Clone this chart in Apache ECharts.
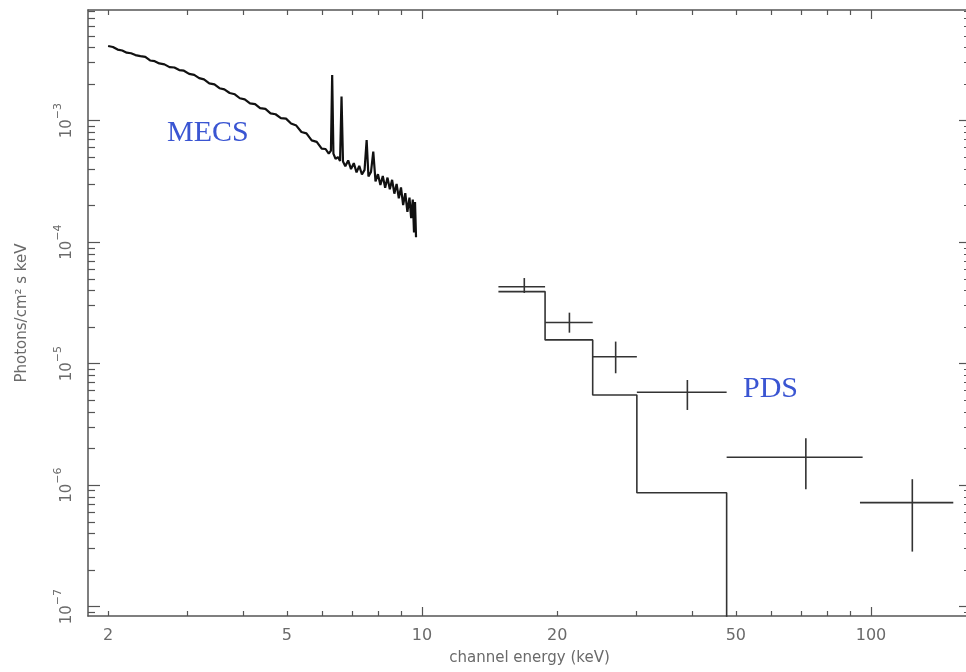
<!DOCTYPE html>
<html>
  <head>
    <meta charset="utf-8" />
    <title>MECS + PDS spectrum</title>
    <script src="https://cdn.jsdelivr.net/npm/echarts@6/dist/echarts.min.js"></script>
  </head>
  <body style="margin:0">
    <div id="main" style="width:966px;height:672px;"></div>
    <script type="text/javascript">
      // MECS spectrum: energy (keV) / flux (photons/cm2 s keV)
      const mecsE = [
        2.0, 2.05, 2.1, 2.15, 2.2, 2.25, 2.3, 2.36, 2.42, 2.48, 2.54, 2.6, 2.67, 2.74, 2.81, 2.88,
        2.95, 3.03, 3.11, 3.19, 3.27, 3.36, 3.45, 3.54, 3.63, 3.73, 3.83, 3.93, 4.03, 4.14, 4.25,
        4.36, 4.48, 4.6, 4.72, 4.85, 4.98, 5.11, 5.25, 5.39, 5.53, 5.68, 5.83, 5.98, 6.1, 6.2,
        6.27, 6.31, 6.35, 6.42, 6.5, 6.57, 6.62, 6.67, 6.75, 6.85, 6.95, 7.05, 7.15, 7.25, 7.35,
        7.45, 7.53, 7.6, 7.7, 7.79, 7.88, 7.98, 8.08, 8.18, 8.28, 8.38, 8.48, 8.58, 8.68, 8.78,
        8.88, 8.98, 9.08, 9.18, 9.28, 9.38, 9.46, 9.54, 9.6, 9.65, 9.7,
      ];
      const mecsF = [
        4.12e-3, 4.04e-3, 3.85e-3, 3.78e-3, 3.63e-3, 3.59e-3, 3.47e-3, 3.4e-3, 3.35e-3, 3.13e-3,
        3.09e-3, 2.96e-3, 2.91e-3, 2.76e-3, 2.74e-3, 2.61e-3, 2.58e-3, 2.43e-3, 2.38e-3, 2.24e-3,
        2.19e-3, 2.03e-3, 1.99e-3, 1.85e-3, 1.81e-3, 1.69e-3, 1.65e-3, 1.53e-3, 1.5e-3, 1.39e-3,
        1.37e-3, 1.27e-3, 1.25e-3, 1.15e-3, 1.13e-3, 1.05e-3, 1.04e-3, 9.48e-4, 9.12e-4, 8.07e-4,
        7.87e-4, 6.89e-4, 6.7e-4, 5.89e-4, 5.85e-4, 5.35e-4, 5.68e-4, 2.38e-3, 5.36e-4, 4.85e-4,
        5.02e-4, 4.66e-4, 1.58e-3, 4.62e-4, 4.22e-4, 4.71e-4, 4.0e-4, 4.47e-4, 3.75e-4, 4.25e-4,
        3.61e-4, 3.94e-4, 6.93e-4, 3.47e-4, 3.79e-4, 5.56e-4, 3.17e-4, 3.63e-4, 2.96e-4, 3.5e-4,
        2.81e-4, 3.4e-4, 2.73e-4, 3.26e-4, 2.51e-4, 3.02e-4, 2.3e-4, 2.82e-4, 2.02e-4, 2.53e-4,
        1.78e-4, 2.33e-4, 1.58e-4, 2.24e-4, 1.2e-4, 2.14e-4, 1.1e-4,
      ];

      // PDS data points: bin edges, centre, flux and error range
      const pdsLo = [14.8, 18.8, 24.0, 30.1, 47.7, 94.5];
      const pdsHi = [18.8, 24.0, 30.1, 47.7, 95.8, 152.5];
      const pdsE = [16.9, 21.3, 27.0, 39.0, 71.6, 123.6];
      const pdsF = [4.3e-5, 2.18e-5, 1.14e-5, 5.82e-6, 1.7e-6, 7.18e-7];
      const pdsFLo = [3.82e-5, 1.8e-5, 8.34e-6, 4.16e-6, 9.25e-7, 2.84e-7];
      const pdsFHi = [5.07e-5, 2.63e-5, 1.52e-5, 7.34e-6, 2.43e-6, 1.12e-6];

      // folded model histogram
      const modelEdges = [14.8, 18.8, 24.0, 30.1, 47.7];
      const modelF = [3.92e-5, 1.57e-5, 5.52e-6, 8.67e-7];
      const modelFloor = 1e-9;

      // axis ticks
      const xLabels = [2, 5, 10, 20, 50, 100];
      const xMajor = [10, 100];
      const xMinor = [2, 3, 4, 5, 6, 7, 8, 9, 20, 30, 40, 50, 60, 70, 80, 90];
      const yLabels = [1e-7, 1e-6, 1e-5, 1e-4, 1e-3];
      const yMinorMant = [2, 3, 4, 5, 6, 7, 8, 9];

      const yMinor = [];
      [1e-8, 1e-7, 1e-6, 1e-5, 1e-4, 1e-3].forEach(d => {
        yMinorMant.forEach(m => yMinor.push(m * d));
      });

      const modelLine = [];
      modelF.forEach((f, i) => {
        if (i > 0) modelLine.push([modelEdges[i], modelF[i - 1]]);
        modelLine.push([modelEdges[i], f]);
      });
      modelLine.push([modelEdges[modelEdges.length - 1], modelF[modelF.length - 1]]);
      modelLine.push([modelEdges[modelEdges.length - 1], modelFloor]);

      const xMin = 1.804, xMax = 167;
      const yMin = 8.38e-8, yMax = 8.15e-3;
      const axisColor = "#555";
      const textColor = "#6a6a6a";
      const font = "DejaVu Sans";

      const xAxisOf = (position, ticks, len, main) => ({
        type: "log",
        logBase: 10,
        position: position,
        min: xMin,
        max: xMax,
        axisLine: { show: main, onZero: false, lineStyle: { color: axisColor, width: 1.5 } },
        axisTick: { show: true, inside: true, length: len, customValues: ticks, lineStyle: { color: axisColor, width: 1.2 } },
        axisLabel: main && position === "bottom"
          ? { show: true, customValues: xLabels, margin: 12, color: textColor, fontFamily: font, fontSize: 16 }
          : { show: false },
        splitLine: { show: false },
        name: main && position === "bottom" ? "channel energy (keV)" : "",
        nameLocation: "middle",
        nameGap: 35,
        nameTextStyle: { color: textColor, fontFamily: font, fontSize: 15 },
      });

      const yAxisOf = (position, ticks, len, main) => ({
        type: "log",
        logBase: 10,
        position: position,
        min: yMin,
        max: yMax,
        axisLine: { show: main, onZero: false, lineStyle: { color: axisColor, width: 1.5 } },
        axisTick: { show: true, inside: true, length: len, customValues: ticks, lineStyle: { color: axisColor, width: 1.2 } },
        axisLabel: main && position === "left"
          ? {
              show: true,
              customValues: yLabels,
              rotate: 90,
              margin: 13,
              color: textColor,
              fontFamily: font,
              formatter: v => "{b|10}{s|" + "\u2212" + Math.abs(Math.round(Math.log10(v))) + "}",
              rich: {
                b: { fontSize: 15, fontFamily: font, color: textColor, lineHeight: 22, verticalAlign: "bottom" },
                s: { fontSize: 11, fontFamily: font, color: textColor, lineHeight: 22, verticalAlign: "top" },
              },
            }
          : { show: false },
        splitLine: { show: false },
        name: main && position === "left" ? "Photons/cm\u00b2 s keV" : "",
        nameLocation: "middle",
        nameGap: 58,
        nameTextStyle: { color: textColor, fontFamily: font, fontSize: 15 },
      });

      const myChart = echarts.init(document.getElementById("main"));
      const option = {
        backgroundColor: "#fff",
        animation: false,
        // the right frame sits just past the picture edge
        grid: { left: 88, right: -5, top: 10, bottom: 56, outerBoundsMode: "none", containLabel: false },
        xAxis: [
          xAxisOf("bottom", xMajor, 9, true),
          xAxisOf("bottom", xMinor, 5, false),
          xAxisOf("top", xMajor, 9, true),
          xAxisOf("top", xMinor, 5, false),
        ],
        yAxis: [
          yAxisOf("left", yLabels, 12, true),
          yAxisOf("left", yMinor, 7, false),
          yAxisOf("right", yLabels, 12, true),
          yAxisOf("right", yMinor, 7, false),
        ],
        graphic: [
          {
            type: "text",
            left: 167,
            top: 118,
            style: { text: "MECS", fill: "#3a55d2", font: "30px 'Liberation Serif'" },
          },
          {
            type: "text",
            left: 743,
            top: 374,
            style: { text: "PDS", fill: "#3a55d2", font: "30px 'Liberation Serif'" },
          },
        ],
        series: [
          {
            name: "MECS",
            type: "line",
            showSymbol: false,
            lineStyle: { color: "#111", width: 2.2 },
            data: mecsE.map((e, i) => [e, mecsF[i]]),
          },
          {
            name: "model",
            type: "line",
            showSymbol: false,
            lineStyle: { color: "#333", width: 1.6 },
            data: modelLine,
          },
          {
            name: "PDS",
            type: "custom",
            renderItem: (params, api) => {
              const a = api.coord([api.value(1), api.value(3)]);
              const b = api.coord([api.value(2), api.value(3)]);
              const t = api.coord([api.value(0), api.value(5)]);
              const u = api.coord([api.value(0), api.value(4)]);
              const st = { stroke: "#333", lineWidth: 1.6 };
              return {
                type: "group",
                children: [
                  { type: "line", shape: { x1: a[0], y1: a[1], x2: b[0], y2: b[1] }, style: st },
                  { type: "line", shape: { x1: t[0], y1: t[1], x2: u[0], y2: u[1] }, style: st },
                ],
              };
            },
            encode: { x: [0, 1, 2], y: [3, 4, 5] },
            data: pdsE.map((e, i) => [e, pdsLo[i], pdsHi[i], pdsF[i], pdsFLo[i], pdsFHi[i]]),
          },
        ],
      };
      myChart.setOption(option);
    </script>
  </body>
</html>
